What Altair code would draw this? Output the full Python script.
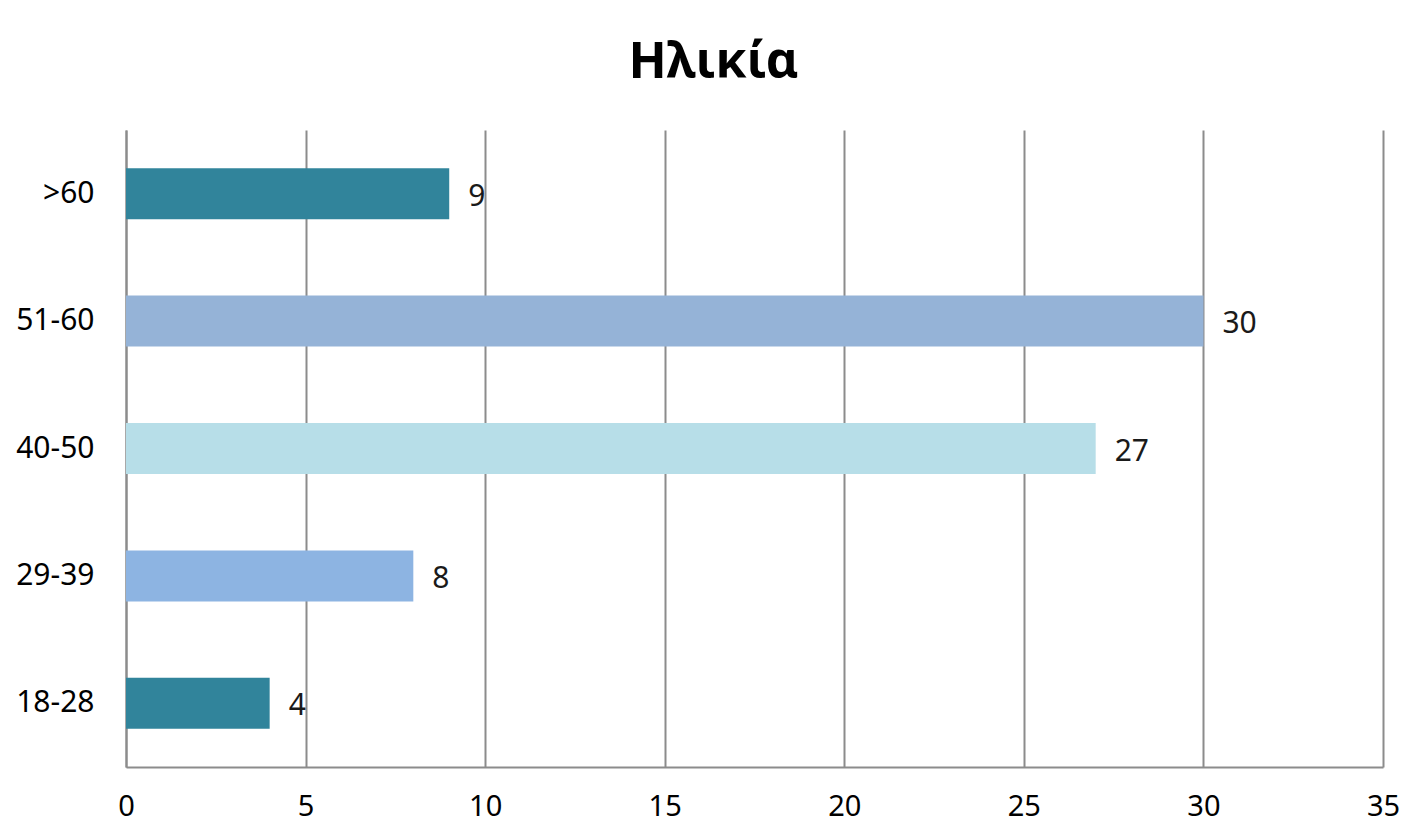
import altair as alt
import pandas as pd

categories = [">60", "51-60", "40-50", "29-39", "18-28"]
values = [9, 30, 27, 8, 4]
colors = ["#31849B", "#95B3D7", "#B7DEE8", "#8DB4E2", "#31849B"]
x_ticks = [0, 5, 10, 15, 20, 25, 30, 35]

df = pd.DataFrame({"age": categories, "count": values, "color": colors})

FONT = "Noto Sans"

base = alt.Chart(df)

bars = base.mark_bar().encode(
    y=alt.Y("age:N", sort=categories, title=None,
            scale=alt.Scale(paddingInner=0.6, paddingOuter=0.3),
            axis=alt.Axis(labelFont=FONT, labelFontSize=30, labelColor="#000000",
                          labelPadding=32, ticks=False, domainColor="#8c8c8c",
                          domainWidth=2, grid=False, labelAlign="right")),
    x=alt.X("count:Q", title=None,
            scale=alt.Scale(domain=[0, 35], nice=False),
            axis=alt.Axis(values=x_ticks, labelFont=FONT, labelFontSize=29,
                          labelColor="#000000", labelPadding=25, ticks=False,
                          domainColor="#8c8c8c", domainWidth=2,
                          grid=True, gridColor="#8c8c8c", gridWidth=2,
                          labelFlush=False)),
    color=alt.Color("color:N", scale=None, legend=None),
)

labels = base.mark_text(align="left", baseline="middle", dx=19, dy=3,
                        font=FONT, fontSize=30, color="#1a1a1a").encode(
    y=alt.Y("age:N", sort=categories),
    x=alt.X("count:Q"),
    text=alt.Text("count:Q"),
)

chart = (bars + labels).properties(
    width=1257,
    height=637,
    title=alt.TitleParams("Ηλικία", font=FONT, fontSize=50, fontWeight="bold",
                          color="#000000", anchor="middle", dx=-41,
                          offset=2, baseline="alphabetic"),
    autosize=alt.AutoSizeParams(type="none"),
    padding={"left": 118, "top": 122, "right": 35, "bottom": 57},
    background="#ffffff",
).configure_view(stroke=None)

chart.save("out.html", embed_options={"renderer": "svg", "actions": False})
